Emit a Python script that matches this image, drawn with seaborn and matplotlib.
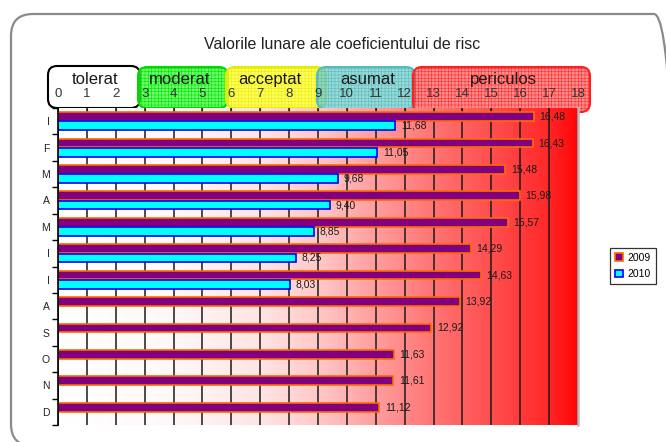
import numpy as np
import pandas as pd
import seaborn as sns
import matplotlib.pyplot as plt
from matplotlib.colors import LinearSegmentedColormap
from matplotlib.patches import FancyBboxPatch, Patch

# data
months = ['ian', 'feb', 'mar', 'apr', 'mai', 'iun', 'iul', 'aug', 'sep', 'oct', 'noi', 'dec']
month_letters = ['I', 'F', 'M', 'A', 'M', 'I', 'I', 'A', 'S', 'O', 'N', 'D']
risk_2009 = [16.48, 16.43, 15.48, 15.98, 15.57, 14.29, 14.63, 13.92, 12.92, 11.63, 11.61, 11.12]
risk_2010 = [11.68, 11.05, 9.68, 9.40, 8.85, 8.25, 8.03]  # only jan - jul
years = ['2009', '2010']
x_ticks = list(range(0, 19))

# risk zones shown as boxes above the axis
zone_names = ['tolerat', 'moderat', 'acceptat', 'asumat', 'periculos']

df = pd.concat([
    pd.DataFrame({'luna': months, 'valoare': risk_2009, 'an': '2009'}),
    pd.DataFrame({'luna': months[:len(risk_2010)], 'valoare': risk_2010, 'an': '2010'}),
])

plt.rcParams['font.family'] = ['Liberation Sans', 'DejaVu Sans']
plt.rcParams['hatch.linewidth'] = 0.35

fig = plt.figure(figsize=(6.66, 4.42), dpi=100)
ax = fig.add_axes([58 / 666, 1 - 425 / 442, 520 / 666, 317 / 442])
ax.patch.set_facecolor('none')

# white -> red gradient behind the bars
cmap = LinearSegmentedColormap.from_list('risc', [
    (0.0, '#FFFFFF'), (0.22, '#FFF8F8'), (0.39, '#FFE4E4'), (0.5, '#FFC8C8'),
    (0.61, '#FF9E9E'), (0.72, '#FF7575'), (0.83, '#FF5050'), (0.94, '#FF2A2A'),
    (1.0, '#FF0606')])
ax.imshow(np.linspace(0, 1, 256).reshape(1, -1), extent=[0, 18, 11.5, -0.5],
          aspect='auto', cmap=cmap, zorder=0)

sns.barplot(data=df, x='valoare', y='luna', hue='an', order=months, hue_order=years,
            palette={'2009': '#800080', '2010': '#00FFFF'}, orient='h',
            width=0.7, gap=0.05, saturation=1, legend=False, ax=ax, zorder=2)

edge_cols = {'2009': '#FF6A00', '2010': '#0000FF'}
for yr, cont in zip(years, ax.containers):
    for bar in cont:
        bar.set_edgecolor(edge_cols[yr])
        bar.set_linewidth(1.2)
    labels = [f'{v:.2f}'.replace('.', ',') for v in cont.datavalues]
    ax.bar_label(cont, labels=labels, padding=4, fontsize=7.5, color='#1a1a1a')

ax.set_xlim(0, 18)
ax.set_ylim(11.5, -0.5)
ax.set_xlabel('')
ax.set_ylabel('')

ax.xaxis.tick_top()
ax.set_xticks(x_ticks)
ax.tick_params(axis='x', which='major', direction='in', length=3, pad=6,
               labelsize=9.5, labelcolor='#333333', color='#222222')
ax.grid(axis='x', color='#1a1a1a', linewidth=1.1, zorder=1)
ax.grid(axis='y', visible=False)

ax.set_yticks(range(len(months)))
ax.set_yticklabels(month_letters)
ax.set_yticks(np.arange(-0.5, 12, 1), minor=True)
ax.tick_params(axis='y', which='major', length=0, pad=6, labelsize=7.5, labelcolor='#222222')
ax.tick_params(axis='y', which='minor', length=4, width=1, color='black')

for s in ['top', 'bottom']:
    ax.spines[s].set_visible(False)
ax.spines['left'].set_color('black')
ax.spines['left'].set_linewidth(1.2)
ax.spines['right'].set_color('#BBBBBB')
ax.spines['right'].set_linewidth(1.8)

# helper: pixel coords (top-left origin) -> inches for dpi_scale_trans
def px(x, y):
    return x / 100, (442 - y) / 100

tr = fig.dpi_scale_trans

# outer rounded frame (right and bottom sides run off the picture)
frame = FancyBboxPatch(px(11, 446), 665 / 100, 432 / 100,
                       boxstyle='round,pad=0,rounding_size=0.22',
                       facecolor='none', edgecolor='#8a8a8a', linewidth=1.6,
                       transform=tr, zorder=-2)
fig.add_artist(frame)

fig.text(*px(342, 49), 'Valorile lunare ale coeficientului de risc', transform=tr,
         ha='center', va='baseline', fontsize=11.5, color='#222222')

# zone boxes: x0, x1, y0, y1 in pixels, face, edge, hatch
zone_boxes = [
    (48, 140, 66, 108, (1, 1, 1, 0.0), '#000000', None),
    (138, 228, 67, 108, (0.2, 1.0, 0.2, 0.75), '#00D800', '+++++'),
    (226, 326, 67, 108, (1.0, 1.0, 0.2, 0.8), '#E8E800', '+++++'),
    (317, 415, 67, 109, (0.45, 0.8, 0.8, 0.75), '#55BBBB', '+++++'),
    (413, 590, 67, 112, (1.0, 0.25, 0.25, 0.6), '#FF2020', '+++++'),
]
zone_text_x = [95, 180, 270, 368, 503]

# boxes sit below the axes so the tick numbers stay readable on top of them
for (x0, x1, y0, y1, fc, ec, hatch), name, tx in zip(zone_boxes, zone_names, zone_text_x):
    box = FancyBboxPatch(px(x0, y1), (x1 - x0) / 100, (y1 - y0) / 100,
                         boxstyle='round,pad=0,rounding_size=0.09',
                         facecolor=fc, edgecolor=ec, linewidth=1.5, hatch=hatch,
                         transform=tr, zorder=-1)
    fig.add_artist(box)
    fig.text(*px(tx, 84), name, transform=tr, ha='center', va='baseline',
             fontsize=12, color='#1a1a1a', zorder=4)

handles = [Patch(facecolor='#800080', edgecolor='#FF6A00', linewidth=1.2, label='2009'),
           Patch(facecolor='#00FFFF', edgecolor='#0000FF', linewidth=1.2, label='2010')]
leg = ax.legend(handles=handles, loc='center', bbox_to_anchor=(633 / 666, 1 - 266 / 442),
                bbox_transform=fig.transFigure, fontsize=7.5, frameon=True, fancybox=False,
                handlelength=0.8, handleheight=0.8, handletextpad=0.4, borderpad=0.5,
                labelspacing=0.6)
leg.get_frame().set_edgecolor('black')
leg.get_frame().set_linewidth(0.9)

fig.savefig('out.png', dpi=100)
